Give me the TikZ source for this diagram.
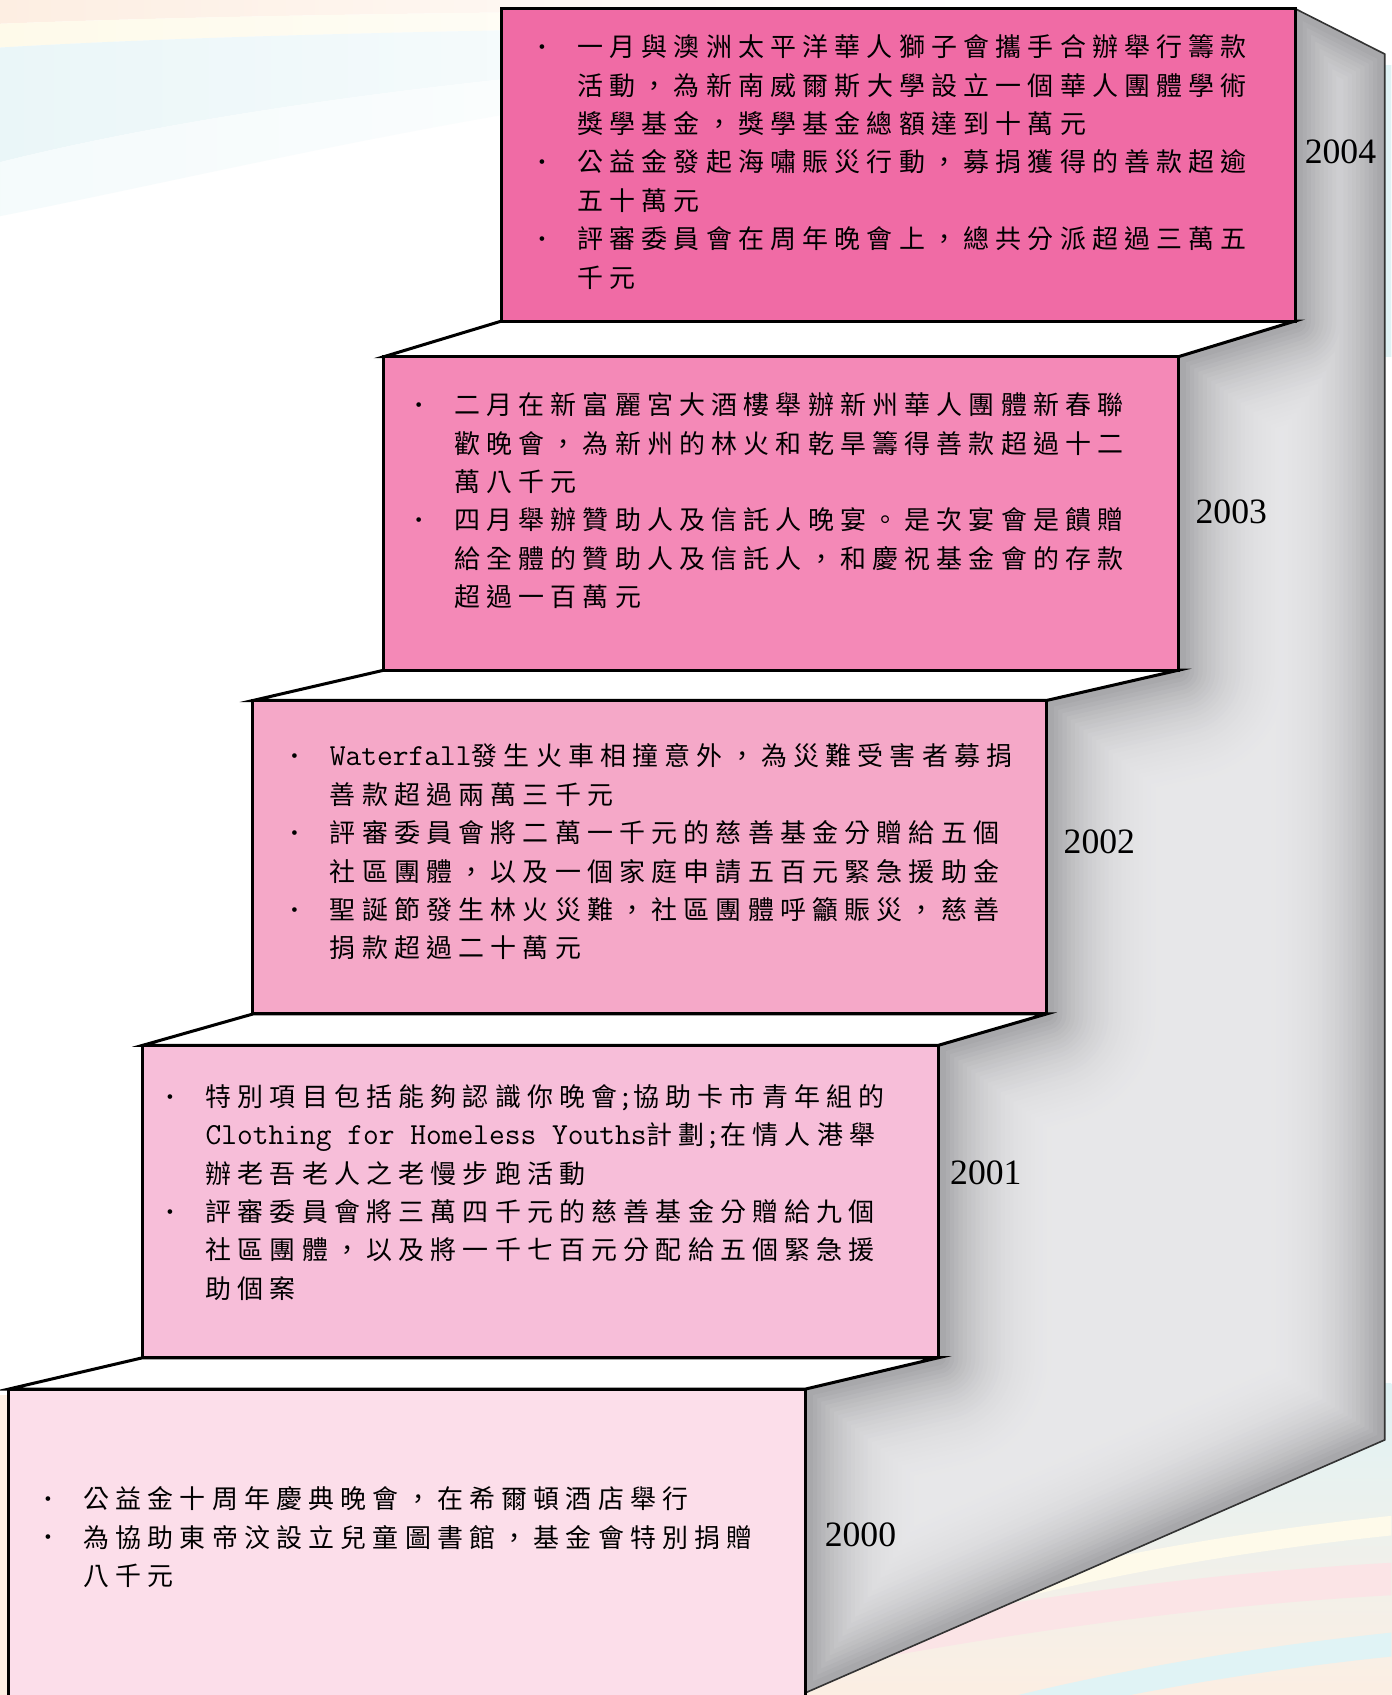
\documentclass[tikz,border=0pt]{standalone}
\usepackage{fontspec}
\setmainfont{Liberation Serif}
\newfontfamily\cjk[LetterSpace=24]{Noto Sans CJK TC}
\newcommand\mn[1]{{\ttfamily\fontsize{28.3}{35.5}\selectfont #1}}
\newcommand\bulx{\makebox[36pt][l]{\raisebox{3pt}{\rmfamily\fontsize{18}{18}\selectfont\textbullet}}}
\newcommand\indt{\hspace*{36pt}}
\definecolor{cA}{RGB}{240,107,165}
\definecolor{cB}{RGB}{244,137,183}
\definecolor{cC}{RGB}{245,168,200}
\definecolor{cD}{RGB}{247,190,217}
\definecolor{cE}{RGB}{252,222,234}
\definecolor{sideD}{RGB}{168,168,171}
\definecolor{sideL}{RGB}{231,231,233}
\definecolor{bgPeach}{RGB}{253,238,226}
\definecolor{bgYellow}{RGB}{254,250,234}
\definecolor{bgCyan}{RGB}{234,246,248}
\definecolor{bgPink}{RGB}{251,228,230}
\definecolor{bgCyanB}{RGB}{224,243,245}
\def\sidepath{(1198,8) -- (1281,50) -- (1281,1332) -- (745,1566) -- (745,1285) -- (868,1256) -- (868,967) -- (968,938) -- (968,648) -- (1090,620) -- (1090,330) -- (1198,297) -- cycle}
\begin{document}
\begin{tikzpicture}[x=1pt,y=-1pt,
  box/.style={draw=black,line width=2.8pt,line join=miter},
  tread/.style={fill=white,draw=black,line width=2.8pt,line join=miter},
  txt/.style={anchor=north west,inner sep=0pt,align=left,font=\cjk\fontsize{24}{35.5}\selectfont},
  yr/.style={font=\rmfamily\fontsize{33}{33}\selectfont,inner sep=0pt}]
\useasboundingbox (0,0) rectangle (1287,1568);
\clip (0,0) rectangle (1287,1568);
\fill[white] (0,0) rectangle (1287,1568);
% background swooshes, top left
\shade[left color=bgPeach,right color=white] (0,0) -- (900,0) -- (900,8) .. controls (500,10) and (200,14) .. (0,22) -- cycle;
\shade[left color=bgYellow,right color=white] (0,22) .. controls (200,14) and (500,10) .. (900,8) -- (900,22) .. controls (500,26) and (200,32) .. (0,44) -- cycle;
\shade[left color=bgCyan,right color=white] (0,44) .. controls (200,32) and (500,26) .. (900,22) -- (900,40) .. controls (500,60) and (200,100) .. (0,150) -- cycle;
\shade[left color=bgCyan!50!white,right color=white] (0,150) .. controls (200,100) and (500,60) .. (900,40) -- (700,70) .. controls (400,110) and (200,160) .. (0,200) -- cycle;
\fill[bgCyanB] (1281,60) rectangle (1290,330);
% bottom right area
\shade[top color=bgCyanB,bottom color=bgPeach] (700,1280) -- (1300,1280) -- (1300,1580) -- (700,1580) -- cycle;
\draw[bgPink,line width=30pt] (700,1540) .. controls (900,1500) and (1100,1470) .. (1300,1460);
\draw[bgCyanB,line width=22pt] (900,1590) .. controls (1050,1550) and (1200,1530) .. (1300,1520);
\draw[bgYellow,line width=18pt] (900,1480) .. controls (1050,1440) and (1200,1420) .. (1300,1410);
\fill[bgPeach] (0,1290) rectangle (8,1568);
% side face (path-gradient look)
\begin{scope}
\clip \sidepath;
\fill[sideL] \sidepath;
\foreach \i in {0,...,29} {
  \pgfmathsetmacro\w{240-7.8*\i}
  \pgfmathsetmacro\p{100*((\i+1)/30)^2.6}
  \draw[sideD!\p!sideL,line width=\w pt,line join=round] \sidepath;
}
\end{scope}
\draw[black!80,line width=1.5pt,line join=miter] (1198,8) -- (1281,50) -- (1281,1332) -- (745,1566);
% treads
\draw[tread] (464,297) -- (1198,297) -- (1090,330) -- (355,330) -- cycle;
\draw[tread] (355,620) -- (1090,620) -- (968,648) -- (234,648) -- cycle;
\draw[tread] (234,938) -- (968,938) -- (868,967) -- (132,967) -- cycle;
\draw[tread] (132,1256) -- (868,1256) -- (745,1285) -- (8,1285) -- cycle;
% boxes
\filldraw[box,fill=cA] (464,8) rectangle (1198,297);
\filldraw[box,fill=cB] (355,330) rectangle (1090,620);
\filldraw[box,fill=cC] (234,648) rectangle (968,938);
\filldraw[box,fill=cD] (132,967) rectangle (868,1256);
\filldraw[box,fill=cE] (8,1285) rectangle (745,1600);
% texts
\node[txt] (t4) at (498,32) {\bulx 一月與澳洲太平洋華人獅子會攜手合辦舉行籌款\\
\indt 活動，為新南威爾斯大學設立一個華人團體學術\\
\indt 獎學基金，獎學基金總額達到十萬元\\
\bulx 公益金發起海嘯賑災行動，募捐獲得的善款超逾\\
\indt 五十萬元\\
\bulx 評審委員會在周年晚會上，總共分派超過三萬五\\
\indt 千元};
\node[txt] (t3) at (384,363) {\bulx 二月在新富麗宮大酒樓舉辦新州華人團體新春聯\\
\indt 歡晚會，為新州的林火和乾旱籌得善款超過十二\\
\indt 萬八千元\\
\bulx 四月舉辦贊助人及信託人晚宴。是次宴會是饋贈\\
\indt 給全體的贊助人及信託人，和慶祝基金會的存款\\
\indt 超過一百萬元};
\node[txt] (t2) at (269,688) {\bulx \mn{Waterfall}發生火車相撞意外，為災難受害者募捐\\
\indt 善款超過兩萬三千元\\
\bulx 評審委員會將二萬一千元的慈善基金分贈給五個\\
\indt 社區團體，以及一個家庭申請五百元緊急援助金\\
\bulx 聖誕節發生林火災難，社區團體呼籲賑災，慈善\\
\indt 捐款超過二十萬元};
\node[txt] (t1) at (154,1003) {\bulx 特別項目包括能夠認識你晚會\mn{;}協助卡市青年組的\\
\indt \mn{Clothing for Homeless Youths}計劃\mn{;}在情人港舉\\
\indt 辦老吾老人之老慢步跑活動\\
\bulx 評審委員會將三萬四千元的慈善基金分贈給九個\\
\indt 社區團體，以及將一千七百元分配給五個緊急援\\
\indt 助個案};
\node[txt] (t0) at (41,1375) {\bulx 公益金十周年慶典晚會，在希爾頓酒店舉行\\
\bulx 為協助東帝汶設立兒童圖書館，基金會特別捐贈\\
\indt 八千元};
% years
\node[yr] (y4) at (1240,140) {2004};
\node[yr] (y3) at (1139,473) {2003};
\node[yr] (y2) at (1017,779) {2002};
\node[yr] (y1) at (912,1085) {2001};
\node[yr] (y0) at (796,1420) {2000};
\end{tikzpicture}
\end{document}
